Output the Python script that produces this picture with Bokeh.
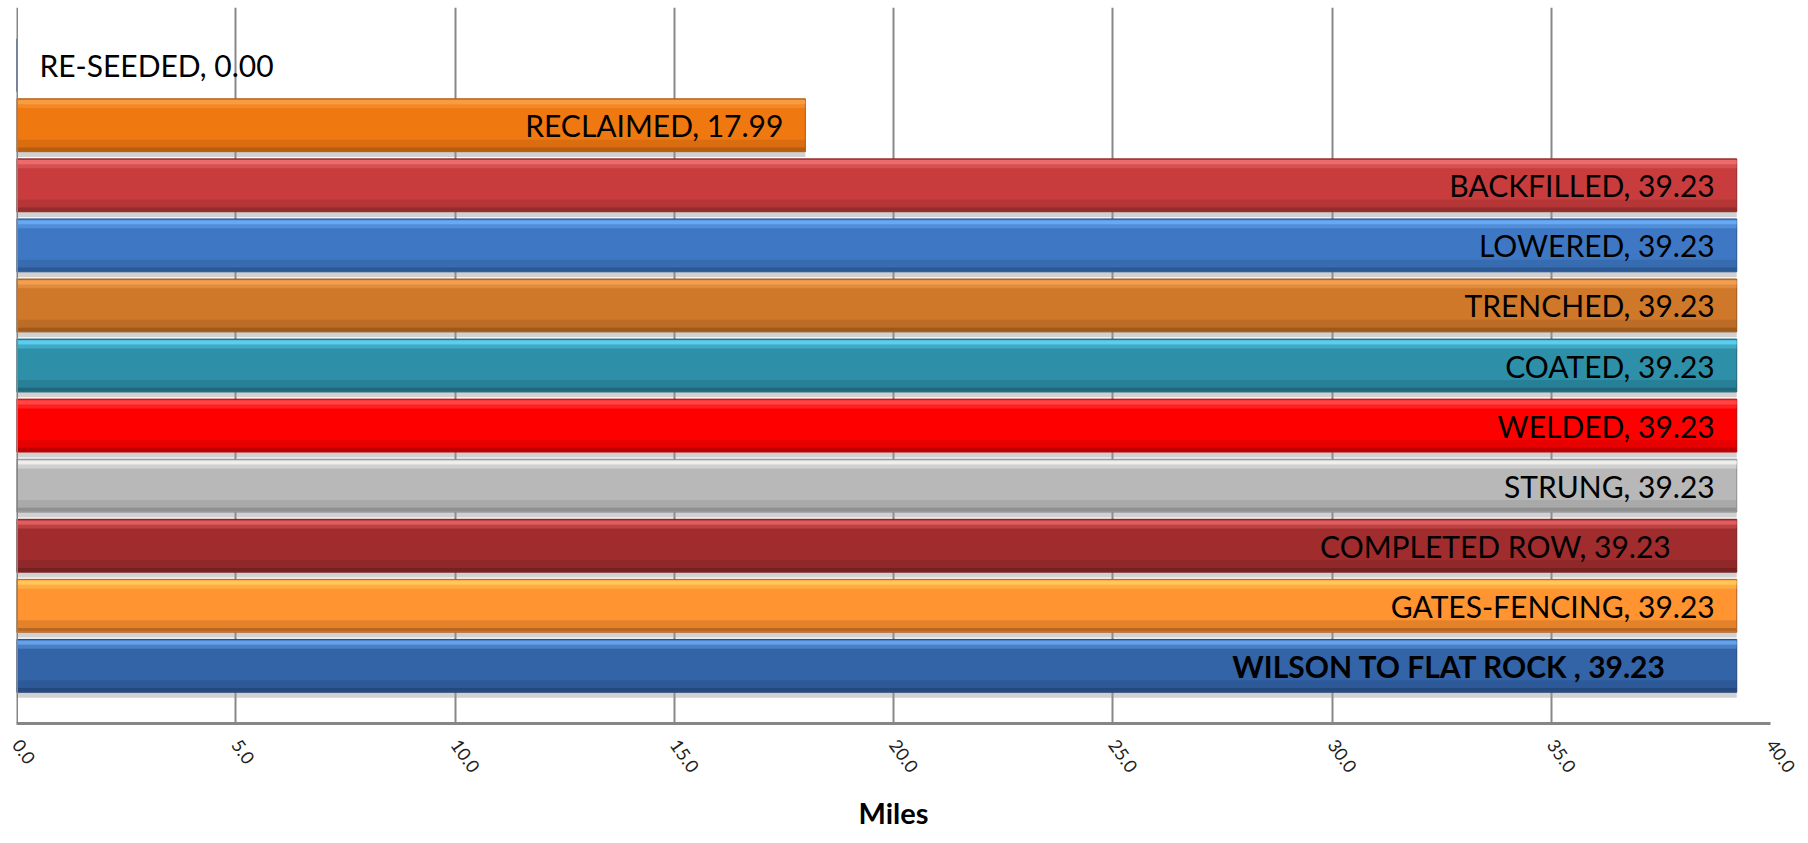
from bokeh.plotting import figure
from bokeh.models import FactorRange, FixedTicker, PrintfTickFormatter, Span, ColumnDataSource
from bokeh.transform import dodge
from bokeh.embed import file_html
from bokeh.resources import INLINE
from bokeh.core.properties import value

categories = ["WILSON TO FLAT ROCK ", "GATES-FENCING", "COMPLETED ROW", "STRUNG", "WELDED",
              "COATED", "TRENCHED", "LOWERED", "BACKFILLED", "RECLAIMED", "RE-SEEDED"]
miles = [39.23, 39.23, 39.23, 39.23, 39.23, 39.23, 39.23, 39.23, 39.23, 17.99, 0.00]
x_ticks = [0, 5, 10, 15, 20, 25, 30, 35, 40]

# styles
main_colors = ["#3464A8", "#FF9430", "#A02C2E", "#B8B8B8", "#FF0000",
               "#2E90A8", "#D0782A", "#3E78C4", "#C83C3E", "#F07810", "#4F81BD"]
light_colors = ["#6AA8F0", "#FFCC60", "#E86464", "#F4F4F4", "#FF5050",
                "#60D4F4", "#F4A458", "#6EAEF6", "#F07070", "#F8A048", "#7FA8E0"]
dark_colors = ["#24467A", "#B06020", "#722020", "#8C8C8C", "#B80000",
               "#1E6476", "#98561C", "#2A558E", "#8E2A2A", "#B05A10", "#35598A"]
label_offsets = [-70, -22, -66, -22, -22, -22, -22, -22, -22, -22, 23]
label_aligns = ["right"] * 10 + ["left"]
label_styles = ["bold"] + ["normal"] * 10

labels = [f"{c}, {v:.2f}" for c, v in zip(categories, miles)]

src = ColumnDataSource(dict(cat=categories, miles=miles, main=main_colors, light=light_colors,
                            dark=dark_colors, label=labels, off=label_offsets,
                            align=label_aligns, style=label_styles))

p = figure(frame_width=1754, frame_height=716, output_backend="svg", toolbar_location=None,
           y_range=FactorRange(factors=categories, range_padding=0.46, range_padding_units="absolute"),
           x_range=(0, 40), min_border_left=16, min_border_right=30, min_border_top=7,
           min_border_bottom=104)
p.outline_line_color = None
p.background_fill_color = "white"

p.xaxis.ticker = FixedTicker(ticks=x_ticks)
p.xaxis.formatter = PrintfTickFormatter(format="%.1f")
p.xaxis.major_label_orientation = -0.95
p.xaxis.major_label_text_font = "Lato"
p.xaxis.major_label_text_font_size = "18px"
p.xaxis.major_label_text_color = "#202020"
p.xaxis.major_label_standoff = 12
p.xaxis.axis_line_color = "#868686"
p.xaxis.axis_line_width = 3
p.xaxis.major_tick_line_color = None
p.xaxis.minor_tick_line_color = None
p.xaxis.axis_label = "Miles"
p.xaxis.axis_label_text_font = "Lato"
p.xaxis.axis_label_text_font_style = "bold"
p.xaxis.axis_label_text_font_size = "29px"
p.xaxis.axis_label_text_color = "black"
p.xaxis.axis_label_standoff = 14
p.yaxis.visible = False

p.xgrid.ticker = FixedTicker(ticks=x_ticks)
p.xgrid.grid_line_color = "#888888"
p.xgrid.grid_line_width = 2
p.ygrid.grid_line_color = None

p.add_layout(Span(location=0, dimension="height", line_color="#868686", line_width=3))

# drop shadow
p.hbar(y=dodge("cat", -0.09, range=p.y_range), left=0, right="miles", height=0.88,
       fill_color="#9A9A9A", fill_alpha=0.45, line_color=None, source=src)
# main bar
p.hbar(y="cat", left=0, right="miles", height=0.88, fill_color="main", line_color="dark",
       line_width=1, source=src)
# top highlight bands
p.hbar(y=dodge("cat", 0.385, range=p.y_range), left=0, right="miles", height=0.07,
       fill_color="light", fill_alpha=0.9, line_color=None, source=src)
p.hbar(y=dodge("cat", 0.32, range=p.y_range), left=0, right="miles", height=0.07,
       fill_color="light", fill_alpha=0.4, line_color=None, source=src)
# bottom dark bands
p.hbar(y=dodge("cat", -0.4, range=p.y_range), left=0, right="miles", height=0.06,
       fill_color="dark", fill_alpha=0.9, line_color=None, source=src)
p.hbar(y=dodge("cat", -0.31, range=p.y_range), left=0, right="miles", height=0.14,
       fill_color="dark", fill_alpha=0.35, line_color=None, source=src)

p.text(x="miles", y="cat", text="label", x_offset="off", text_align="align",
       text_baseline="middle", text_font=value("Lato"), text_font_size="30px",
       text_font_style="style", text_color="black", source=src)

open("out.html", "w").write(file_html(p, INLINE))
